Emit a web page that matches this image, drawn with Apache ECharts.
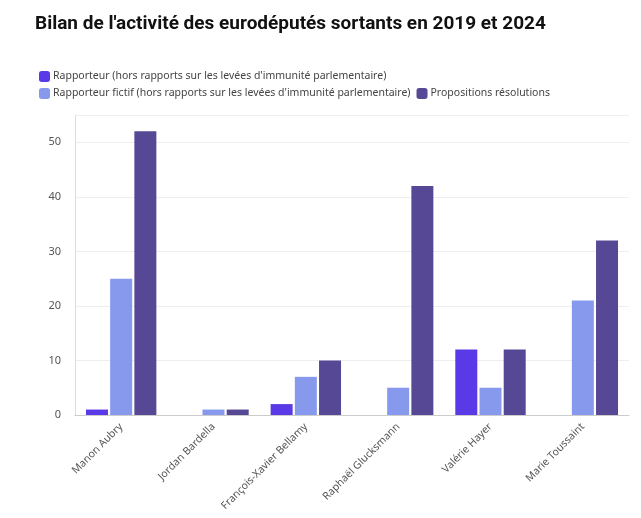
<!DOCTYPE html>
<html>
<head><meta charset="utf-8"></head>
<body style="margin:0">
<div id="container" style="width:641px;height:518px"></div>
<script src="https://cdn.jsdelivr.net/npm/echarts@6/dist/echarts.min.js"></script>
<script>
var names = ['Manon Aubry', 'Jordan Bardella', 'François-Xavier Bellamy', 'Raphaël Glucksmann', 'Valérie Hayer', 'Marie Toussaint'];
var rapporteur = [1, 0, 2, 0, 12, 0];
var fictif = [25, 1, 7, 5, 5, 21];
var resolutions = [52, 1, 10, 42, 12, 32];

var chart = echarts.init(document.getElementById('container'));
var font = 'Noto Sans';
chart.setOption({
    backgroundColor: '#fff',
    textStyle: { fontFamily: font },
    title: {
        text: "Bilan de l'activité des eurodéputés sortants en 2019 et 2024",
        left: 30, top: 10,
        textStyle: { fontFamily: 'Roboto', fontSize: 19, fontWeight: 'bold', color: '#111' }
    },
    legend: {
        left: 34, top: 66, width: 560,
        itemWidth: 11, itemHeight: 11, itemGap: 6,
        icon: 'roundRect',
        textStyle: { fontSize: 10.5, color: '#444', padding: [0, 0, 0, -2] },
        data: ["Rapporteur (hors rapports sur les levées d'immunité parlementaire)",
               "Rapporteur fictif (hors rapports sur les levées d'immunité parlementaire)",
               'Propositions résolutions']
    },
    grid: { left: 75, right: 12, top: 115, bottom: 103 },
    xAxis: {
        type: 'category', data: names,
        axisTick: { show: false },
        axisLine: { lineStyle: { color: '#ccc' } },
        axisLabel: { rotate: 45, fontSize: 10.5, color: '#555', margin: 10 }
    },
    yAxis: {
        type: 'value', min: 0, max: 55, interval: 10,
        axisLine: { show: true, lineStyle: { color: '#ddd' } },
        splitLine: { lineStyle: { color: '#eee' } },
        axisLabel: { fontSize: 11, color: '#555', margin: 14, showMaxLabel: false }
    },
    series: [
        { name: "Rapporteur (hors rapports sur les levées d'immunité parlementaire)", type: 'bar', data: rapporteur, barWidth: 22, barGap: '10%', itemStyle: { color: '#5a3ae6' } },
        { name: "Rapporteur fictif (hors rapports sur les levées d'immunité parlementaire)", type: 'bar', data: fictif, barWidth: 22, itemStyle: { color: '#8699ec' } },
        { name: 'Propositions résolutions', type: 'bar', data: resolutions, barWidth: 22, itemStyle: { color: '#574895' } }
    ]
});
</script>
</body>
</html>
